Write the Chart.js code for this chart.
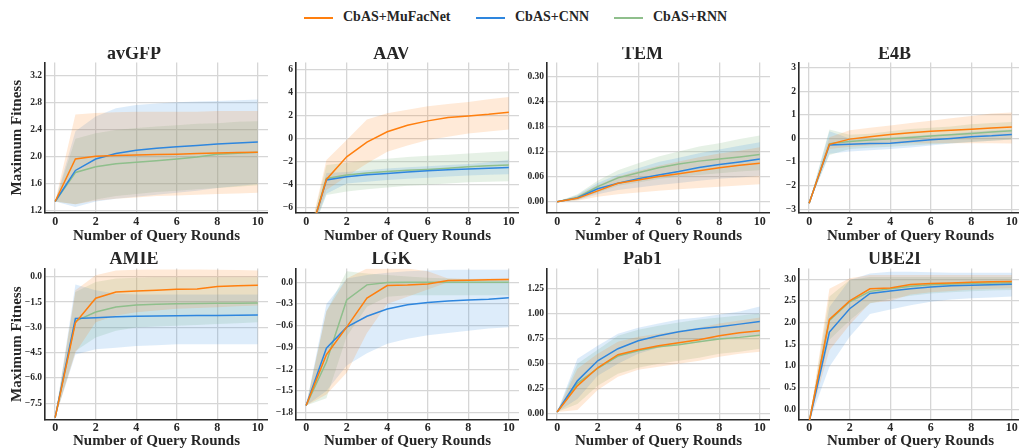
<!DOCTYPE html>
<html>
<head>
<meta charset="utf-8">
<script src="https://cdn.jsdelivr.net/npm/chart.js@4.4.0/dist/chart.umd.min.js"></script>
<style>
  body { margin: 0; background: #fff; width: 1019px; height: 448px; overflow: hidden; position: relative; }
  .panel { position: absolute; }
  .lgline { position: absolute; top: 17px; width: 29px; height: 2px; }
  .lgtext { position: absolute; top: 9px; line-height: 18px; font: bold 14px "Liberation Serif", serif; color: #262626; white-space: nowrap; }
</style>
</head>
<body>
<div class="lgline" style="left:304px;background:#ff7f0e"></div>
<div class="lgtext" style="left:343px">CbAS+MuFacNet</div>
<div class="lgline" style="left:476px;background:#2e86de"></div>
<div class="lgtext" style="left:515px">CbAS+CNN</div>
<div class="lgline" style="left:614px;background:#8fbf8c"></div>
<div class="lgtext" style="left:653px">CbAS+RNN</div>

<script>
// rounds on the x axis, shared by every panel
const rounds = [0, 1, 2, 3, 4, 5, 6, 7, 8, 9, 10];
const xTicks = [0, 2, 4, 6, 8, 10];
// row order in every array below: MuFacNet, CNN, RNN

// avGFP
const avgfpMean = [
  [1.34, 1.97, 2.01, 2.02, 2.03, 2.035, 2.04, 2.05, 2.06, 2.065, 2.07],
  [1.34, 1.80, 1.97, 2.05, 2.10, 2.13, 2.15, 2.17, 2.19, 2.205, 2.22],
  [1.34, 1.77, 1.855, 1.90, 1.92, 1.945, 1.97, 2.00, 2.04, 2.055, 2.07]
];
const avgfpHigh = [
  [1.34, 2.63, 2.65, 2.66, 2.67, 2.67, 2.67, 2.67, 2.68, 2.68, 2.68],
  [1.34, 2.38, 2.60, 2.72, 2.77, 2.79, 2.81, 2.82, 2.83, 2.84, 2.85],
  [1.34, 2.27, 2.35, 2.40, 2.43, 2.45, 2.47, 2.49, 2.50, 2.52, 2.53]
];
const avgfpLow = [
  [1.34, 1.30, 1.35, 1.38, 1.40, 1.42, 1.43, 1.44, 1.45, 1.46, 1.47],
  [1.34, 1.26, 1.34, 1.38, 1.41, 1.44, 1.47, 1.50, 1.54, 1.57, 1.60],
  [1.34, 1.30, 1.37, 1.42, 1.45, 1.48, 1.50, 1.52, 1.54, 1.56, 1.58]
];
const avgfpTicks = [1.2, 1.6, 2.0, 2.4, 2.8, 3.2];
const avgfpRange = [1.17, 3.40];

// AAV
const aavMean = [
  [-9.5, -3.55, -1.59, -0.32, 0.58, 1.15, 1.53, 1.82, 1.96, 2.10, 2.28],
  [-9.5, -3.60, -3.32, -3.15, -3.03, -2.90, -2.80, -2.72, -2.65, -2.58, -2.51],
  [-9.5, -3.46, -3.17, -3.00, -2.86, -2.76, -2.68, -2.58, -2.45, -2.37, -2.30]
];
const aavHigh = [
  [-9.5, -1.87, -0.14, 1.64, 2.20, 2.50, 2.80, 3.00, 3.17, 3.40, 3.60],
  [-9.5, -3.00, -2.90, -2.75, -2.60, -2.50, -2.40, -2.30, -2.20, -2.05, -1.85],
  [-9.5, -2.30, -2.10, -1.90, -1.75, -1.60, -1.50, -1.40, -1.30, -1.20, -1.10]
];
const aavLow = [
  [-9.5, -4.47, -3.30, -2.16, -1.15, -0.60, -0.14, 0.15, 0.43, 0.60, 0.78],
  [-9.5, -4.80, -3.90, -3.75, -3.60, -3.50, -3.40, -3.30, -3.20, -3.15, -3.10],
  [-9.5, -4.90, -4.60, -4.40, -4.25, -4.10, -4.00, -3.90, -3.80, -3.75, -3.70]
];
const aavTicks = [-6, -4, -2, 0, 2, 4, 6];
const aavRange = [-6.46, 6.6];

// TEM
const temMean = [
  [0, 0.008, 0.026, 0.044, 0.052, 0.060, 0.067, 0.074, 0.081, 0.087, 0.092],
  [0, 0.009, 0.031, 0.044, 0.055, 0.064, 0.072, 0.082, 0.089, 0.095, 0.102],
  [0, 0.010, 0.036, 0.057, 0.069, 0.081, 0.090, 0.097, 0.102, 0.107, 0.113]
];
const temHigh = [
  [0, 0.014, 0.040, 0.060, 0.074, 0.086, 0.096, 0.106, 0.115, 0.122, 0.130],
  [0, 0.016, 0.045, 0.065, 0.080, 0.095, 0.105, 0.116, 0.125, 0.134, 0.142],
  [0, 0.018, 0.050, 0.075, 0.092, 0.108, 0.120, 0.132, 0.140, 0.150, 0.158]
];
const temLow = [
  [0, 0.002, 0.012, 0.018, 0.022, 0.026, 0.030, 0.033, 0.036, 0.039, 0.042],
  [0, 0.004, 0.018, 0.028, 0.034, 0.040, 0.045, 0.050, 0.055, 0.058, 0.062],
  [0, 0.004, 0.022, 0.038, 0.046, 0.054, 0.060, 0.064, 0.068, 0.072, 0.075]
];
const temTicks = [0, 0.06, 0.12, 0.18, 0.24, 0.30];
const temRange = [-0.027, 0.333];

// E4B
const e4bMean = [
  [-2.75, -0.25, -0.03, 0.07, 0.17, 0.24, 0.30, 0.35, 0.39, 0.44, 0.48],
  [-2.75, -0.28, -0.25, -0.22, -0.20, -0.13, -0.06, 0.00, 0.07, 0.11, 0.17],
  [-2.75, -0.22, -0.13, -0.07, -0.01, 0.04, 0.10, 0.15, 0.21, 0.27, 0.32]
];
const e4bHigh = [
  [-2.75, 0.05, 0.35, 0.45, 0.55, 0.65, 0.75, 0.85, 0.95, 1.05, 1.10],
  [-2.75, 0.30, 0.00, 0.00, 0.05, 0.10, 0.15, 0.20, 0.28, 0.33, 0.38],
  [-2.75, 0.38, 0.15, 0.20, 0.30, 0.40, 0.45, 0.50, 0.60, 0.65, 0.70]
];
const e4bLow = [
  [-2.75, -0.45, -0.35, -0.30, -0.25, -0.20, -0.20, -0.20, -0.20, -0.20, -0.22],
  [-2.75, -0.65, -0.55, -0.50, -0.45, -0.38, -0.30, -0.22, -0.15, -0.10, -0.05],
  [-2.75, -0.70, -0.45, -0.40, -0.35, -0.30, -0.25, -0.20, -0.15, -0.10, -0.05]
];
const e4bTicks = [-3, -2, -1, 0, 1, 2, 3];
const e4bRange = [-3.16, 3.22];

// AMIE
const amieMean = [
  [-8.35, -2.73, -1.27, -0.90, -0.84, -0.80, -0.74, -0.72, -0.58, -0.53, -0.50],
  [-8.35, -2.47, -2.42, -2.37, -2.34, -2.32, -2.31, -2.30, -2.29, -2.28, -2.27],
  [-8.35, -2.63, -2.09, -1.79, -1.67, -1.63, -1.60, -1.58, -1.57, -1.56, -1.55]
];
const amieHigh = [
  [-8.35, -0.80, 0.10, 0.38, 0.42, 0.43, 0.43, 0.43, 0.42, 0.40, 0.38],
  [-8.35, -0.45, -0.80, -1.00, -1.05, -1.05, -1.05, -1.05, -1.05, -1.05, -1.05],
  [-8.35, -0.90, -0.30, -0.10, -0.05, -0.03, -0.02, -0.02, -0.02, -0.02, -0.02]
];
const amieLow = [
  [-8.35, -4.50, -2.70, -2.30, -2.10, -2.00, -1.90, -1.85, -1.80, -1.75, -1.70],
  [-8.35, -4.60, -4.30, -4.20, -4.10, -4.05, -4.00, -4.00, -4.00, -4.00, -4.00],
  [-8.35, -4.40, -3.60, -3.20, -3.00, -2.95, -2.90, -2.85, -2.80, -2.75, -2.70]
];
const amieTicks = [-7.5, -6.0, -4.5, -3.0, -1.5, 0.0];
const amieRange = [-8.49, 0.5];

// LGK
const lgkMean = [
  [-1.70, -1.00, -0.62, -0.22, -0.046, -0.04, -0.025, 0.023, 0.028, 0.032, 0.037],
  [-1.70, -0.91, -0.62, -0.47, -0.37, -0.31, -0.28, -0.26, -0.245, -0.235, -0.216],
  [-1.70, -1.10, -0.245, -0.037, -0.005, 0, 0, 0, 0, 0, 0]
];
const lgkHigh = [
  [-1.70, -0.40, 0.05, 0.19, 0.19, 0.19, 0.15, 0.05, 0.045, 0.05, 0.055],
  [-1.70, -0.30, 0.05, 0.10, 0.13, 0.15, 0.16, 0.17, 0.17, 0.17, 0.17],
  [-1.70, -0.40, 0.15, 0.12, 0.10, 0.08, 0.06, 0.05, 0.04, 0.03, 0.03]
];
const lgkLow = [
  [-1.70, -1.55, -1.25, -0.70, -0.30, -0.20, -0.10, 0.00, 0.01, 0.015, 0.02],
  [-1.70, -1.50, -1.15, -0.98, -0.85, -0.78, -0.73, -0.70, -0.67, -0.64, -0.62],
  [-1.70, -1.60, -0.75, -0.34, -0.20, -0.18, -0.18, -0.18, -0.18, -0.18, -0.18]
];
const lgkTicks = [-1.8, -1.5, -1.2, -0.9, -0.6, -0.3, 0.0];
const lgkRange = [-1.9, 0.19];

// Pab1
const pab1Mean = [
  [0.02, 0.28, 0.46, 0.59, 0.64, 0.68, 0.71, 0.74, 0.78, 0.81, 0.83],
  [0.02, 0.33, 0.53, 0.65, 0.73, 0.78, 0.82, 0.85, 0.87, 0.895, 0.92],
  [0.02, 0.305, 0.455, 0.577, 0.63, 0.67, 0.69, 0.72, 0.746, 0.763, 0.785]
];
const pab1High = [
  [0.02, 0.45, 0.60, 0.72, 0.77, 0.80, 0.83, 0.86, 0.90, 0.93, 0.96],
  [0.02, 0.55, 0.68, 0.80, 0.86, 0.90, 0.94, 0.96, 0.99, 1.02, 1.07],
  [0.02, 0.50, 0.64, 0.78, 0.84, 0.88, 0.91, 0.94, 0.96, 0.98, 1.00]
];
const pab1Low = [
  [0.02, 0.04, 0.24, 0.37, 0.44, 0.47, 0.50, 0.53, 0.57, 0.60, 0.62],
  [0.02, 0.15, 0.38, 0.50, 0.60, 0.66, 0.70, 0.73, 0.75, 0.77, 0.78],
  [0.02, 0.10, 0.28, 0.40, 0.46, 0.50, 0.53, 0.56, 0.60, 0.62, 0.65]
];
const pab1Ticks = [0, 0.25, 0.5, 0.75, 1.0, 1.25];
const pab1Range = [-0.06, 1.45];

// UBE2I
const ube2iMean = [
  [-0.3, 2.07, 2.50, 2.78, 2.80, 2.88, 2.90, 2.915, 2.93, 2.94, 2.945],
  [-0.3, 1.78, 2.32, 2.67, 2.73, 2.78, 2.82, 2.85, 2.86, 2.87, 2.885],
  [-0.3, 2.05, 2.48, 2.72, 2.78, 2.84, 2.87, 2.89, 2.91, 2.915, 2.92]
];
const ube2iHigh = [
  [-0.3, 2.78, 3.02, 3.10, 3.10, 3.10, 3.10, 3.10, 3.10, 3.10, 3.10],
  [-0.3, 2.36, 2.98, 3.13, 3.17, 3.17, 3.16, 3.15, 3.15, 3.15, 3.15],
  [-0.3, 2.60, 2.98, 3.05, 3.05, 3.05, 3.05, 3.05, 3.05, 3.05, 3.05]
];
const ube2iLow = [
  [-0.3, 1.36, 1.95, 2.45, 2.50, 2.65, 2.70, 2.73, 2.76, 2.78, 2.79],
  [-0.3, 0.98, 1.67, 2.20, 2.30, 2.40, 2.48, 2.53, 2.56, 2.58, 2.60],
  [-0.3, 1.60, 2.05, 2.44, 2.55, 2.62, 2.67, 2.70, 2.72, 2.74, 2.75]
];
const ube2iTicks = [0, 0.5, 1.0, 1.5, 2.0, 2.5, 3.0];
const ube2iRange = [-0.25, 3.25];

const lineColors = ['#ff7f0e', '#2e86de', '#8fbf8c'];
const fillColors = ['rgba(255,127,14,0.16)', 'rgba(46,134,222,0.16)', 'rgba(143,191,140,0.22)'];
const FONT = '"Liberation Serif", serif';
const TEXT = '#262626';

const panels = [
  { title: 'avGFP', mean: avgfpMean, high: avgfpHigh, low: avgfpLow, ticks: avgfpTicks, range: avgfpRange, dec: 1 },
  { title: 'AAV', mean: aavMean, high: aavHigh, low: aavLow, ticks: aavTicks, range: aavRange, dec: 0 },
  { title: 'TEM', mean: temMean, high: temHigh, low: temLow, ticks: temTicks, range: temRange, dec: 2 },
  { title: 'E4B', mean: e4bMean, high: e4bHigh, low: e4bLow, ticks: e4bTicks, range: e4bRange, dec: 0 },
  { title: 'AMIE', mean: amieMean, high: amieHigh, low: amieLow, ticks: amieTicks, range: amieRange, dec: 1 },
  { title: 'LGK', mean: lgkMean, high: lgkHigh, low: lgkLow, ticks: lgkTicks, range: lgkRange, dec: 1 },
  { title: 'Pab1', mean: pab1Mean, high: pab1High, low: pab1Low, ticks: pab1Ticks, range: pab1Range, dec: 2 },
  { title: 'UBE2I', mean: ube2iMean, high: ube2iHigh, low: ube2iLow, ticks: ube2iTicks, range: ube2iRange, dec: 1 }
];

// layout of the 2x4 grid
const plotLefts = [45, 296, 547, 799];
const rowTops = [47, 252];
const rowHeights = [197, 197];
const titleGap = [1, 2];
const xAxisHeights = [31, 29];
const xTickPad = [2, 0.5];
const plotW = 223;

function pts(vals) {
  return rounds.map((r, i) => ({ x: r, y: vals[i] }));
}

panels.forEach((p, idx) => {
  const row = Math.floor(idx / 4), col = idx % 4;
  const yw = col === 0 ? 45 : 32;
  const w = yw + plotW, h = rowHeights[row];

  const div = document.createElement('div');
  div.className = 'panel';
  div.style.left = (plotLefts[col] - yw) + 'px';
  div.style.top = rowTops[row] + 'px';
  const canvas = document.createElement('canvas');
  canvas.width = w; canvas.height = h;
  canvas.style.width = w + 'px'; canvas.style.height = h + 'px';
  div.appendChild(canvas);
  document.body.appendChild(div);

  const datasets = [];
  for (let k = 0; k < 3; k++) {
    datasets.push({ data: pts(p.mean[k]), borderColor: lineColors[k], borderWidth: 1.5,
      pointRadius: 0, fill: false, order: k });
  }
  for (let k = 0; k < 3; k++) {
    datasets.push({ data: pts(p.high[k]), borderWidth: 0, pointRadius: 0,
      backgroundColor: fillColors[k], fill: '+1', order: 10 + k });
    datasets.push({ data: pts(p.low[k]), borderWidth: 0, pointRadius: 0, fill: false, order: 10 + k });
  }

  new Chart(canvas, {
    type: 'line',
    data: { datasets: datasets },
    options: {
      responsive: false,
      animation: false,
      devicePixelRatio: 1,
      layout: { padding: 0 },
      plugins: {
        legend: { display: false },
        tooltip: { enabled: false },
        title: { display: true, text: p.title, color: TEXT,
          font: { family: FONT, size: 18, weight: 'bold', lineHeight: 0.8 },
          padding: { top: 0, bottom: titleGap[row] } }
      },
      scales: {
        x: {
          type: 'linear', min: -0.5, max: 10.5,
          afterBuildTicks: s => { s.ticks = xTicks.map(v => ({ value: v })); },
          afterFit: s => { s.height = xAxisHeights[row]; },
          ticks: { color: TEXT, padding: xTickPad[row], maxRotation: 0, autoSkip: false,
            font: { family: FONT, size: 12, weight: 'bold', lineHeight: 1.2 } },
          grid: { color: '#d6d6d6', lineWidth: 1.3, drawTicks: false },
          border: { display: true, color: '#2a2a2a', width: 1.6 },
          title: { display: true, text: 'Number of Query Rounds', color: TEXT,
            font: { family: FONT, size: 15, weight: 'bold', lineHeight: 1 }, padding: 0 }
        },
        y: {
          type: 'linear', min: p.range[0], max: p.range[1],
          afterBuildTicks: s => { s.ticks = p.ticks.map(v => ({ value: v })); },
          afterFit: s => { s.width = yw; },
          ticks: { color: TEXT, padding: 3, autoSkip: false,
            font: { family: FONT, size: 9.5, weight: 'bold' },
            callback: v => v.toFixed(p.dec).replace('-', '\u2212') },
          grid: { color: '#d6d6d6', lineWidth: 1.3, drawTicks: false },
          border: { display: true, color: '#2a2a2a', width: 1.6 },
          title: { display: col === 0, text: 'Maximum Fitness', color: TEXT,
            font: { family: FONT, size: 15, weight: 'bold', lineHeight: 1 },
            padding: { top: 10, bottom: 0 } }
        }
      }
    }
  });
});
</script>
</body>
</html>
